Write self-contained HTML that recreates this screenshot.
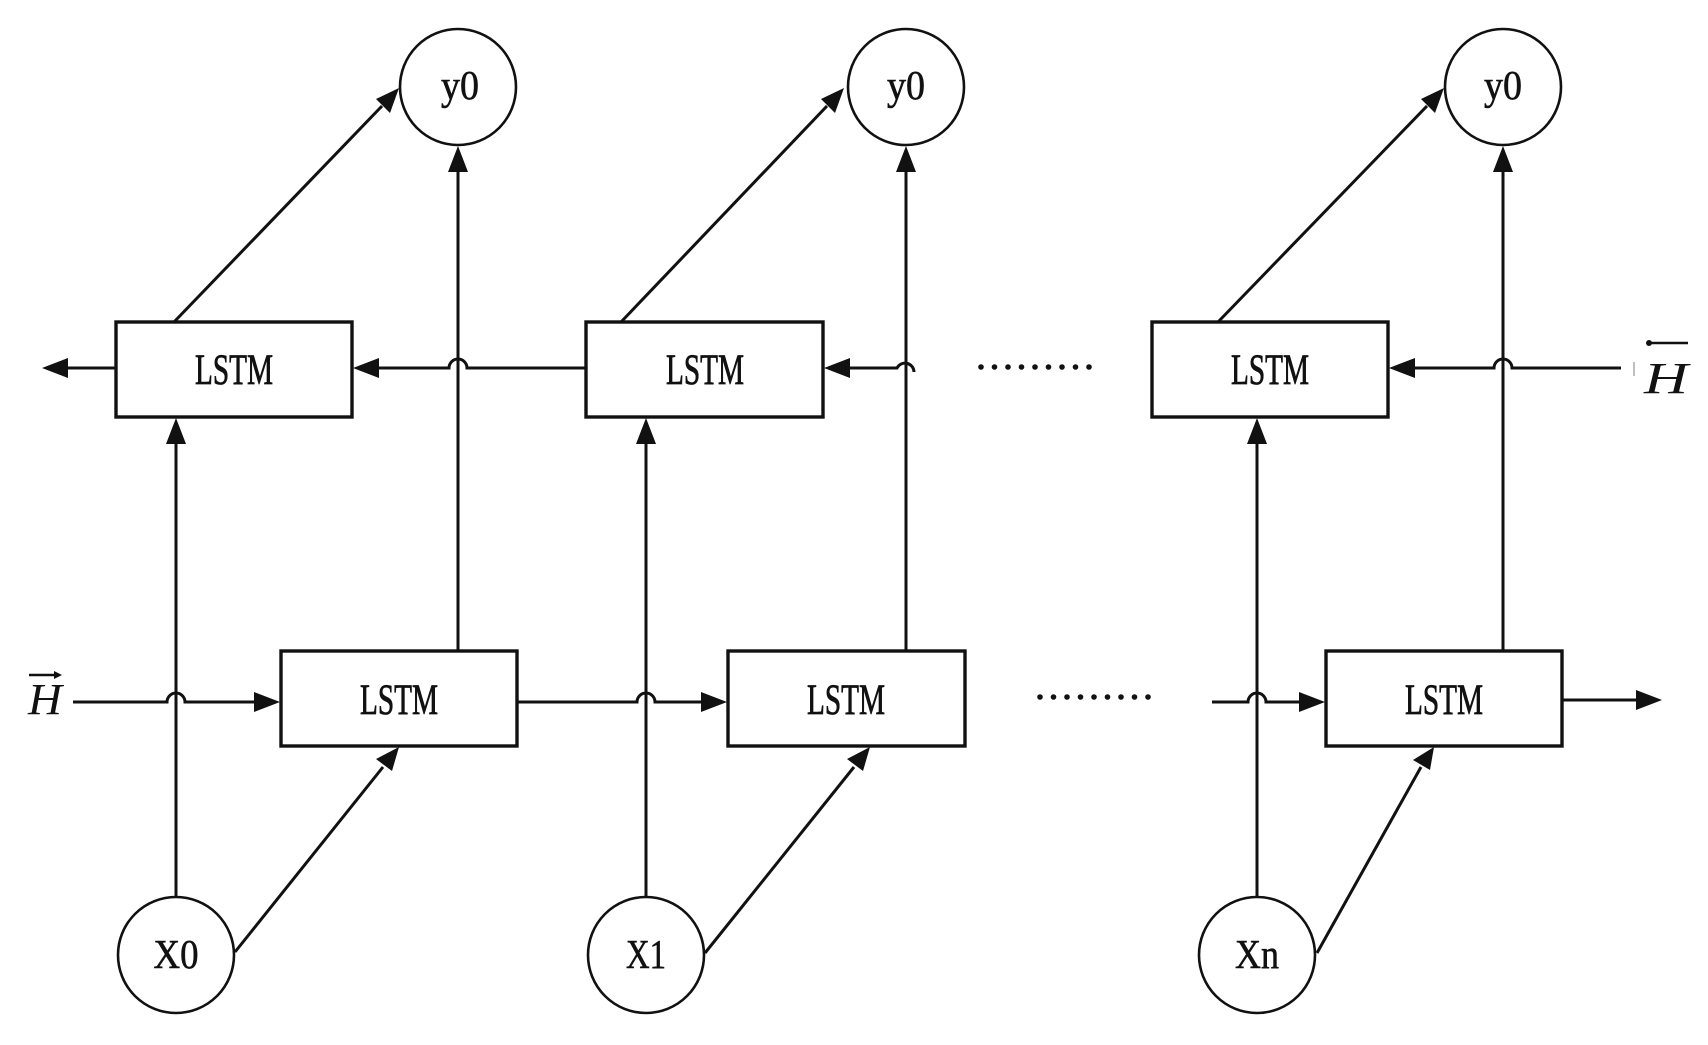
<!DOCTYPE html>
<html><head><meta charset="utf-8"><style>
html,body{margin:0;padding:0;background:#fff;}
svg{display:block;}
text{font-family:"Liberation Serif",serif;fill:#111;}
</style></head><body>
<svg width="1708" height="1045" viewBox="0 0 1708 1045" xmlns="http://www.w3.org/2000/svg">
<g stroke="#111" fill="none">
<g stroke-width="3.4" fill="#fff">
<rect x="116" y="322" width="236" height="95"/>
<rect x="586" y="322" width="237" height="95"/>
<rect x="1152" y="322" width="236" height="95"/>
<rect x="281" y="651" width="236" height="95"/>
<rect x="728" y="651" width="237" height="95"/>
<rect x="1326" y="651" width="236" height="95"/>
</g>
<g stroke-width="2.6" fill="#fff">
<circle cx="458" cy="87" r="58"/>
<circle cx="906" cy="87" r="58"/>
<circle cx="1503" cy="87" r="58"/>
<circle cx="176" cy="955" r="58"/>
<circle cx="646" cy="955" r="58"/>
<circle cx="1257" cy="955" r="58"/>
</g>
<g stroke-width="3">
<path d="M116 368 H66"/>
<path d="M586 368 H467 a9 9 0 0 0 -18 0 H376"/>
<path d="M914 372 a9 9 0 0 0 -17 -4 H847"/>
<path d="M1621 368 H1512 a9 9 0 0 0 -18 0 H1412"/>
<path d="M73 702 H167 a9 9 0 0 1 18 0 H257"/>
<path d="M517 702 H637 a9 9 0 0 1 18 0 H704"/>
<path d="M1212 702 H1248 a9 9 0 0 1 18 0 H1302"/>
<path d="M1562 700 H1636"/>
<path d="M176 897 V441"/>
<path d="M646 897 V441"/>
<path d="M1257 897 V441"/>
<path d="M458 651 V169"/>
<path d="M906 651 V169"/>
<path d="M1503 651 V169"/>
<path d="M174 322 L382 106"/>
<path d="M621 322 L827 106"/>
<path d="M1218 322 L1427 106"/>
<path d="M235 952 L383 767"/>
<path d="M705 953 L854 767"/>
<path d="M1317 953 L1421 767"/>
</g>
</g>
<g fill="#111">
<polygon points="42,368 68,358 68,378"/>
<polygon points="353,368 379,358 379,378"/>
<polygon points="824,368 850,358 850,378"/>
<polygon points="1389,368 1415,358 1415,378"/>
<polygon points="280,702 254,692 254,712"/>
<polygon points="727,702 701,692 701,712"/>
<polygon points="1325,702 1299,692 1299,712"/>
<polygon points="1662,700 1636,690 1636,710"/>
<polygon points="176,418 166,444 186,444"/>
<polygon points="646,418 636,444 656,444"/>
<polygon points="1257,418 1247,444 1267,444"/>
<polygon points="458,146 448,172 468,172"/>
<polygon points="906,146 896,172 916,172"/>
<polygon points="1503,146 1493,172 1513,172"/>
<polygon points="399,88 376,99 390,113"/>
<polygon points="844,88 821,99 835,113"/>
<polygon points="1444,88 1421,99 1435,113"/>
<polygon points="399,747 376,759 392,771"/>
<polygon points="870,747 847,759 863,771"/>
<polygon points="1434,747 1413,760 1430,770"/>
</g>
<g fill="#111">
<circle cx="981" cy="367" r="2.8"/><circle cx="994.5" cy="367" r="2.8"/><circle cx="1008" cy="367" r="2.8"/><circle cx="1021.5" cy="367" r="2.8"/><circle cx="1035" cy="367" r="2.8"/><circle cx="1048.5" cy="367" r="2.8"/><circle cx="1062" cy="367" r="2.8"/><circle cx="1075.5" cy="367" r="2.8"/><circle cx="1089" cy="367" r="2.8"/>
<circle cx="1040" cy="697" r="2.8"/><circle cx="1053.5" cy="697" r="2.8"/><circle cx="1067" cy="697" r="2.8"/><circle cx="1080.5" cy="697" r="2.8"/><circle cx="1094" cy="697" r="2.8"/><circle cx="1107.5" cy="697" r="2.8"/><circle cx="1121" cy="697" r="2.8"/><circle cx="1134.5" cy="697" r="2.8"/><circle cx="1148" cy="697" r="2.8"/>
</g>
<g font-size="43" text-anchor="middle" stroke="#111" stroke-width="0.8">
<text x="234" y="384" textLength="78" lengthAdjust="spacingAndGlyphs">LSTM</text>
<text x="705" y="384" textLength="78" lengthAdjust="spacingAndGlyphs">LSTM</text>
<text x="1270" y="384" textLength="78" lengthAdjust="spacingAndGlyphs">LSTM</text>
<text x="399" y="714" textLength="78" lengthAdjust="spacingAndGlyphs">LSTM</text>
<text x="846" y="714" textLength="78" lengthAdjust="spacingAndGlyphs">LSTM</text>
<text x="1444" y="714" textLength="78" lengthAdjust="spacingAndGlyphs">LSTM</text>
</g>
<g font-size="41" text-anchor="middle" stroke="#111" stroke-width="0.6">
<text x="460" y="99" textLength="38" lengthAdjust="spacingAndGlyphs">y0</text>
<text x="906" y="99" textLength="38" lengthAdjust="spacingAndGlyphs">y0</text>
<text x="1503" y="99" textLength="38" lengthAdjust="spacingAndGlyphs">y0</text>
<text x="176" y="968" textLength="45" lengthAdjust="spacingAndGlyphs">X0</text>
<text x="646" y="968" textLength="40" lengthAdjust="spacingAndGlyphs">X1</text>
<text x="1257" y="968" textLength="44" lengthAdjust="spacingAndGlyphs">Xn</text>
</g>
<g font-size="44" font-style="italic">
<text x="28" y="714" textLength="34" lengthAdjust="spacingAndGlyphs">H</text>
<text x="1644" y="393" textLength="44" lengthAdjust="spacingAndGlyphs">H</text>
</g>
<g stroke="#111" stroke-width="2.5">
<path d="M29 675 H56"/>
<path d="M1651 343 H1688"/>
</g>
<polygon points="62,675 54,671 54,679" fill="#111"/>
<circle cx="1649" cy="343" r="3" fill="#111"/>
<path d="M1634 362 V376" stroke="#aaa" stroke-width="1.5"/>
</svg>
</body></html>
